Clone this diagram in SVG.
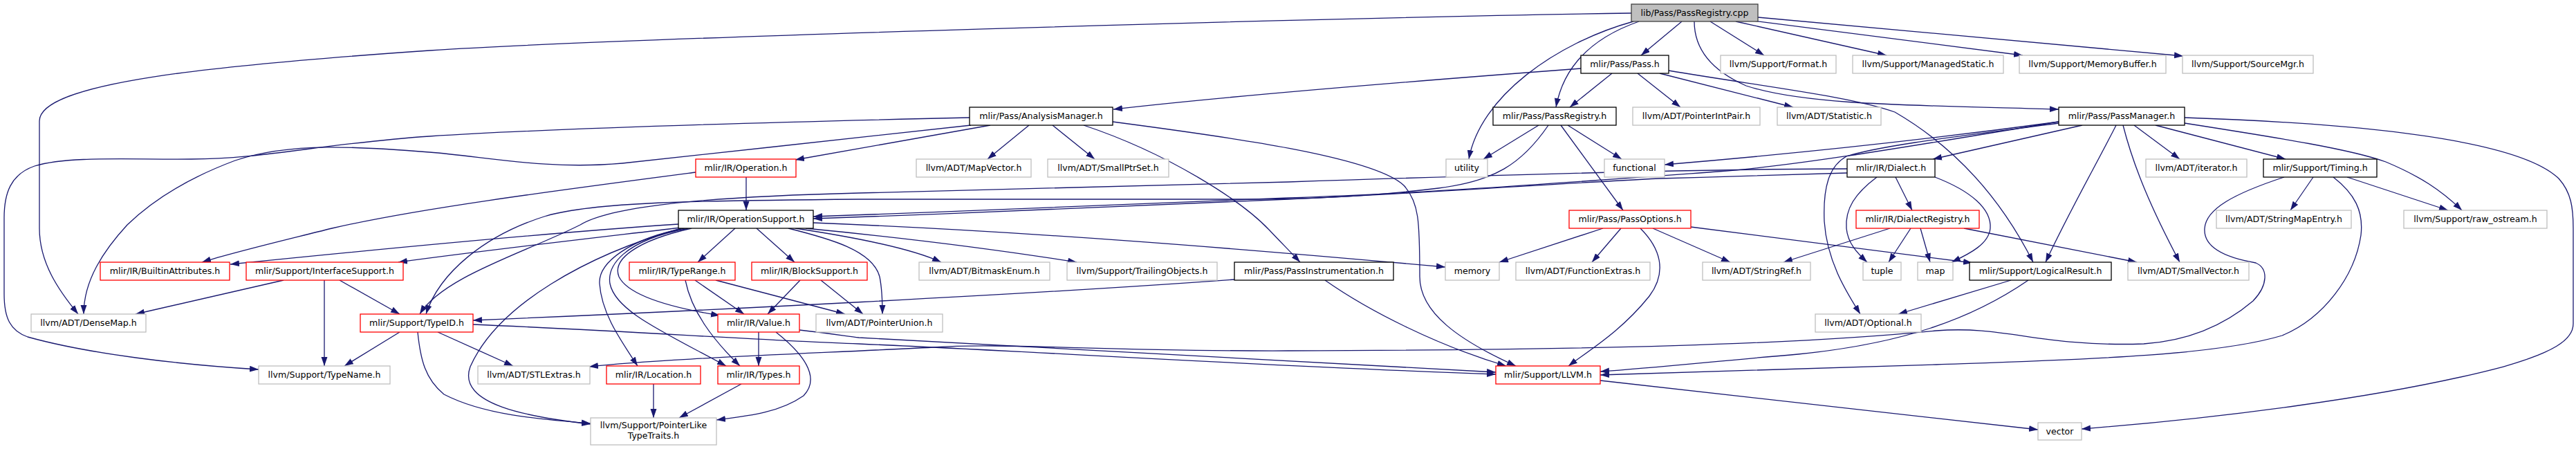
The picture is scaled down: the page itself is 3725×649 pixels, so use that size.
<svg xmlns="http://www.w3.org/2000/svg" width="3725" height="649" viewBox="0 0 3725 649">
<defs>
<marker id="ah" markerUnits="userSpaceOnUse" markerWidth="14" markerHeight="10" refX="13" refY="4.5" orient="auto"><path d="M0,0 L13,4.5 L0,9 Z" fill="#191970"/></marker>
<style>
.node rect{fill:#fff;stroke-width:1.3}
.k rect{stroke:#000}
.r rect{stroke:#ff0000}
.g rect{stroke:#bfbfbf}
.rt rect{fill:#bfbfbf;stroke:#404040}
text{font-family:"DejaVu Sans",sans-serif;font-size:12.6px;text-anchor:middle;fill:#000}
#edges path{fill:none;stroke:#191970;stroke-width:1.3;marker-end:url(#ah)}
</style>
</defs>
<rect width="3725" height="649" fill="#fff"/>
<g id="edges">
<path d="M2359,19 C1900,26 900,55 621,73 C300,95 57,120 57,175 L57,330 C57,380 85,420 113,454"/>
<path d="M1402,170 C1050,178 760,188 621,197 C470,207 380,230 277,230 C190,231 100,225 50,240 C15,252 6,280 6,315 L6,425 C6,460 15,478 40,487 C130,512 260,527 374,534"/>
<path d="M1404,181 C1300,192 1050,220 900,236 C790,246 700,226 621,220 C520,212 420,205 340,232 C265,260 215,295 184,325 C150,362 121,405 121,454"/>
<path d="M1432,181 C1350,196 1250,213 1150,231"/>
<path d="M1488,181 L1428,230"/>
<path d="M1522,181 L1583,230"/>
<path d="M1567,181 C1690,222 1795,290 1835,332 C1852,350 1866,364 1880,379"/>
<path d="M1609,176 C1760,196 1985,225 2030,268 C2052,292 2053,320 2053,400 C2053,452 2110,492 2192,529"/>
<path d="M2286,99 C2100,113 1800,136 1610,158"/>
<path d="M2432,31 L2373,80"/>
<path d="M2370,31 C2310,52 2262,90 2250,155"/>
<path d="M2362,31 C2250,62 2140,140 2124,230"/>
<path d="M2473,31 L2551,80"/>
<path d="M2510,31 L2728,80"/>
<path d="M2535,30 L2925,80"/>
<path d="M2542,25 L3157,81"/>
<path d="M2450,31 C2450,72 2475,102 2525,124 C2610,152 2760,152 2977,158"/>
<path d="M2413,102 C2550,125 2680,140 2740,162 C2840,220 2900,300 2940,379"/>
<path d="M2400,106 L2593,155"/>
<path d="M2368,106 L2430,155"/>
<path d="M2331,106 L2270,155"/>
<path d="M2225,181 L2145,230"/>
<path d="M2267,181 L2345,230"/>
<path d="M2257,181 L2347,304"/>
<path d="M2239,181 C2200,238 2160,262 2080,272 C1990,283 1900,288 1800,288 L1242,288 C1000,290 860,292 790,312 C700,340 635,395 616,454"/>
<path d="M2671,244 C2450,244 2100,255 1863,263 C1600,270 1400,275 1242,279 C1000,285 880,300 839,325 C760,365 640,400 607,454"/>
<path d="M2977,176 C2800,205 2600,240 2484,248 C2250,265 2050,280 1863,286 C1600,295 1400,306 1176,313"/>
<path d="M2671,250 C2550,253 2484,256 2400,258 C2200,268 2050,280 1863,288 C1600,298 1400,309 1176,316"/>
<path d="M2977,176 C2800,200 2600,222 2407,238"/>
<path d="M2977,178 C2840,196 2720,210 2670,226 C2645,240 2636,270 2638,320 C2642,380 2672,425 2690,454"/>
<path d="M3011,181 L2795,230"/>
<path d="M3060,181 C3030,240 2990,310 2958,379"/>
<path d="M3070,181 C3085,240 3110,300 3152,379"/>
<path d="M3086,181 L3152,230"/>
<path d="M3117,181 L3305,230"/>
<path d="M3159,178 C3300,200 3400,216 3450,234 C3500,255 3530,275 3560,304"/>
<path d="M3159,170 C3400,178 3640,200 3700,258 C3718,278 3721,300 3721,330 L3721,468 C3721,492 3690,510 3620,530 C3450,575 3200,605 3010,620"/>
<path d="M2741,256 L2765,304"/>
<path d="M2714,256 C2682,280 2668,302 2670,330 C2672,352 2686,366 2700,379"/>
<path d="M2798,256 C2850,276 2880,302 2878,330 C2876,352 2850,366 2822,379"/>
<path d="M2733,330 L2579,379"/>
<path d="M2763,330 L2731,379"/>
<path d="M2777,330 L2791,379"/>
<path d="M2840,330 L3090,379"/>
<path d="M2390,330 L2502,379"/>
<path d="M2445,328 L2852,380"/>
<path d="M2318,330 L2168,379"/>
<path d="M2344,330 L2302,379"/>
<path d="M2372,330 C2400,358 2412,392 2385,428 C2345,478 2300,505 2268,529"/>
<path d="M2908,405 L2745,454"/>
<path d="M2933,405 C2850,462 2750,497 2600,512 C2480,522 2400,531 2314,537"/>
<path d="M2314,550 L2947,621"/>
<path d="M3345,256 L3312,304"/>
<path d="M3394,256 L3540,304"/>
<path d="M3303,256 C3230,280 3190,302 3188,330 C3186,356 3215,372 3262,380 C3280,388 3280,412 3258,435 C3205,480 3145,494 3100,497 C2950,502 2900,470 2800,478 C2600,498 2300,506 1863,507 C1600,508 1450,495 1350,502 C1150,512 950,519 852,530"/>
<path d="M3374,256 C3405,280 3418,305 3414,340 C3405,400 3360,460 3300,485 C3200,515 3000,520 2800,527 C2600,533 2450,538 2314,542"/>
<path d="M684,469 C900,478 1100,492 1242,497 C1500,508 1800,528 2163,541"/>
<path d="M1156,477 C1200,482 1225,486 1242,488 C1500,500 1800,520 2163,538"/>
<path d="M1916,405 C1980,450 2080,500 2178,529"/>
<path d="M1785,404 C1500,425 1000,450 684,463"/>
<path d="M1176,322 C1500,335 1800,360 2090,386"/>
<path d="M1165,330 C1300,343 1450,362 1557,379"/>
<path d="M1150,330 C1250,345 1320,360 1361,379"/>
<path d="M1140,330 C1200,345 1262,362 1272,400 C1276,420 1276,440 1276,454"/>
<path d="M1063,330 L1009,379"/>
<path d="M1094,330 L1149,379"/>
<path d="M1000,330 C920,348 885,375 895,400 C910,430 985,447 1041,456"/>
<path d="M995,330 C900,348 878,385 882,410 C890,450 960,480 1050,529"/>
<path d="M990,330 C910,345 865,380 867,410 C870,455 900,495 922,529"/>
<path d="M985,330 C850,368 720,440 680,530 C660,585 765,603 854,613"/>
<path d="M981,324 C800,336 550,360 333,382"/>
<path d="M985,329 C850,345 700,362 576,379"/>
<path d="M1079,256 L1079,304"/>
<path d="M1006,249 C800,276 600,302 480,330 C400,350 340,364 292,379"/>
<path d="M410,405 L196,454"/>
<path d="M469,405 L469,529"/>
<path d="M491,405 L578,454"/>
<path d="M578,480 L498,529"/>
<path d="M604,480 C608,520 615,548 642,570 C700,600 780,606 854,612"/>
<path d="M633,480 L742,529"/>
<path d="M1005,405 L1076,454"/>
<path d="M991,405 C1000,450 1030,490 1070,529"/>
<path d="M1035,405 L1222,454"/>
<path d="M1157,405 L1110,454"/>
<path d="M1187,405 L1248,454"/>
<path d="M1097,480 L1097,529"/>
<path d="M1122,480 C1160,510 1188,545 1162,572 C1125,598 1075,602 1036,607"/>
<path d="M1072,555 L982,604"/>
<path d="M945,555 L945,604"/>
</g>
<g id="n_root" class="node rt"><rect x="2359" y="6" width="183" height="25"/><text x="2450.5" y="23">lib/Pass/PassRegistry.cpp</text></g>
<g id="n_pass" class="node k"><rect x="2286" y="80" width="127" height="26"/><text x="2349.5" y="97">mlir/Pass/Pass.h</text></g>
<g id="n_format" class="node g"><rect x="2488" y="80" width="167" height="26"/><text x="2571.5" y="97">llvm/Support/Format.h</text></g>
<g id="n_managedstatic" class="node g"><rect x="2679" y="80" width="218" height="26"/><text x="2788" y="97">llvm/Support/ManagedStatic.h</text></g>
<g id="n_memorybuffer" class="node g"><rect x="2920" y="80" width="212" height="26"/><text x="3026" y="97">llvm/Support/MemoryBuffer.h</text></g>
<g id="n_sourcemgr" class="node g"><rect x="3156" y="80" width="189" height="26"/><text x="3250.5" y="97">llvm/Support/SourceMgr.h</text></g>
<g id="n_analysismanager" class="node k"><rect x="1402" y="155" width="207" height="26"/><text x="1505.5" y="172">mlir/Pass/AnalysisManager.h</text></g>
<g id="n_passregistry" class="node k"><rect x="2159" y="155" width="178" height="26"/><text x="2248" y="172">mlir/Pass/PassRegistry.h</text></g>
<g id="n_pointerintpair" class="node g"><rect x="2361" y="155" width="184" height="26"/><text x="2453" y="172">llvm/ADT/PointerIntPair.h</text></g>
<g id="n_statistic" class="node g"><rect x="2570" y="155" width="150" height="26"/><text x="2645" y="172">llvm/ADT/Statistic.h</text></g>
<g id="n_passmanager" class="node k"><rect x="2977" y="155" width="182" height="26"/><text x="3068" y="172">mlir/Pass/PassManager.h</text></g>
<g id="n_operation" class="node r"><rect x="1006" y="230" width="145" height="26"/><text x="1078.5" y="247">mlir/IR/Operation.h</text></g>
<g id="n_mapvector" class="node g"><rect x="1325" y="230" width="166" height="26"/><text x="1408" y="247">llvm/ADT/MapVector.h</text></g>
<g id="n_smallptrset" class="node g"><rect x="1515" y="230" width="175" height="26"/><text x="1602.5" y="247">llvm/ADT/SmallPtrSet.h</text></g>
<g id="n_utility" class="node g"><rect x="2091" y="230" width="60" height="26"/><text x="2121" y="247">utility</text></g>
<g id="n_functional" class="node g"><rect x="2320" y="230" width="87" height="26"/><text x="2363.5" y="247">functional</text></g>
<g id="n_dialect" class="node k"><rect x="2671" y="230" width="127" height="26"/><text x="2734.5" y="247">mlir/IR/Dialect.h</text></g>
<g id="n_iterator" class="node g"><rect x="3103" y="230" width="146" height="26"/><text x="3176" y="247">llvm/ADT/iterator.h</text></g>
<g id="n_timing" class="node k"><rect x="3273" y="230" width="164" height="26"/><text x="3355" y="247">mlir/Support/Timing.h</text></g>
<g id="n_operationsupport" class="node k"><rect x="981" y="304" width="195" height="26"/><text x="1078.5" y="321">mlir/IR/OperationSupport.h</text></g>
<g id="n_passoptions" class="node r"><rect x="2269" y="304" width="176" height="26"/><text x="2357" y="321">mlir/Pass/PassOptions.h</text></g>
<g id="n_dialectregistry" class="node r"><rect x="2684" y="304" width="178" height="26"/><text x="2773" y="321">mlir/IR/DialectRegistry.h</text></g>
<g id="n_stringmapentry" class="node g"><rect x="3205" y="304" width="195" height="26"/><text x="3302.5" y="321">llvm/ADT/StringMapEntry.h</text></g>
<g id="n_raw_ostream" class="node g"><rect x="3476" y="304" width="207" height="26"/><text x="3579.5" y="321">llvm/Support/raw_ostream.h</text></g>
<g id="n_builtinattributes" class="node r"><rect x="145" y="379" width="187" height="26"/><text x="238.5" y="396">mlir/IR/BuiltinAttributes.h</text></g>
<g id="n_interfacesupport" class="node r"><rect x="356" y="379" width="227" height="26"/><text x="469.5" y="396">mlir/Support/InterfaceSupport.h</text></g>
<g id="n_typerange" class="node r"><rect x="910" y="379" width="153" height="26"/><text x="986.5" y="396">mlir/IR/TypeRange.h</text></g>
<g id="n_blocksupport" class="node r"><rect x="1087" y="379" width="167" height="26"/><text x="1170.5" y="396">mlir/IR/BlockSupport.h</text></g>
<g id="n_bitmaskenum" class="node g"><rect x="1329" y="379" width="189" height="26"/><text x="1423.5" y="396">llvm/ADT/BitmaskEnum.h</text></g>
<g id="n_trailingobjects" class="node g"><rect x="1543" y="379" width="217" height="26"/><text x="1651.5" y="396">llvm/Support/TrailingObjects.h</text></g>
<g id="n_passinstrumentation" class="node k"><rect x="1785" y="379" width="230" height="26"/><text x="1900" y="396">mlir/Pass/PassInstrumentation.h</text></g>
<g id="n_memory" class="node g"><rect x="2090" y="379" width="78" height="26"/><text x="2129" y="396">memory</text></g>
<g id="n_functionextras" class="node g"><rect x="2192" y="379" width="194" height="26"/><text x="2289" y="396">llvm/ADT/FunctionExtras.h</text></g>
<g id="n_stringref" class="node g"><rect x="2462" y="379" width="156" height="26"/><text x="2540" y="396">llvm/ADT/StringRef.h</text></g>
<g id="n_tuple" class="node g"><rect x="2694" y="379" width="55" height="26"/><text x="2721.5" y="396">tuple</text></g>
<g id="n_map" class="node g"><rect x="2773" y="379" width="51" height="26"/><text x="2798.5" y="396">map</text></g>
<g id="n_logicalresult" class="node k"><rect x="2848" y="379" width="205" height="26"/><text x="2950.5" y="396">mlir/Support/LogicalResult.h</text></g>
<g id="n_smallvector" class="node g"><rect x="3077" y="379" width="175" height="26"/><text x="3164.5" y="396">llvm/ADT/SmallVector.h</text></g>
<g id="n_densemap" class="node g"><rect x="45" y="454" width="166" height="26"/><text x="128" y="471">llvm/ADT/DenseMap.h</text></g>
<g id="n_typeid" class="node r"><rect x="521" y="454" width="163" height="26"/><text x="602.5" y="471">mlir/Support/TypeID.h</text></g>
<g id="n_value" class="node r"><rect x="1038" y="454" width="118" height="26"/><text x="1097" y="471">mlir/IR/Value.h</text></g>
<g id="n_pointerunion" class="node g"><rect x="1180" y="454" width="183" height="26"/><text x="1271.5" y="471">llvm/ADT/PointerUnion.h</text></g>
<g id="n_optional" class="node g"><rect x="2625" y="454" width="153" height="26"/><text x="2701.5" y="471">llvm/ADT/Optional.h</text></g>
<g id="n_typename" class="node g"><rect x="374" y="529" width="190" height="26"/><text x="469" y="546">llvm/Support/TypeName.h</text></g>
<g id="n_stlextras" class="node g"><rect x="691" y="529" width="162" height="26"/><text x="772" y="546">llvm/ADT/STLExtras.h</text></g>
<g id="n_location" class="node r"><rect x="877" y="529" width="136" height="26"/><text x="945" y="546">mlir/IR/Location.h</text></g>
<g id="n_types" class="node r"><rect x="1038" y="529" width="118" height="26"/><text x="1097" y="546">mlir/IR/Types.h</text></g>
<g id="n_llvm" class="node r"><rect x="2163" y="529" width="151" height="26"/><text x="2238.5" y="546">mlir/Support/LLVM.h</text></g>
<g id="n_pointerlike" class="node g"><rect x="854" y="604" width="182" height="39"/><text x="945" y="619">llvm/Support/PointerLike</text><text x="945" y="634">TypeTraits.h</text></g>
<g id="n_vector" class="node g"><rect x="2947" y="611" width="63" height="25"/><text x="2978.5" y="628">vector</text></g>
</svg>
